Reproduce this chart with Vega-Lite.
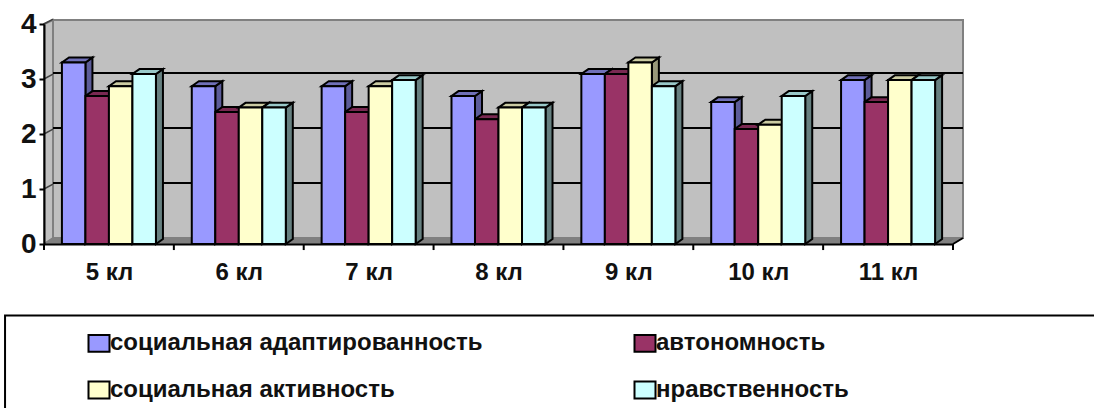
{
"$schema":"https://vega.github.io/schema/vega-lite/v6.json",
"width":909,"height":220,
"autosize":{"type":"none"},
"padding":{"left":44,"top":24,"right":141,"bottom":164},
"background":"white",
"config":{"view":{"stroke":null},"font":"Liberation Sans"},
"resolve":{"scale":{"color":"independent"}},
"datasets":{
"bars":[
{"klass":"5 кл","series":"социальная адаптированность","value":3.3},{"klass":"5 кл","series":"автономность","value":2.69},{"klass":"5 кл","series":"социальная активность","value":2.87},{"klass":"5 кл","series":"нравственность","value":3.09},
{"klass":"6 кл","series":"социальная адаптированность","value":2.87},{"klass":"6 кл","series":"автономность","value":2.4},{"klass":"6 кл","series":"социальная активность","value":2.48},{"klass":"6 кл","series":"нравственность","value":2.48},
{"klass":"7 кл","series":"социальная адаптированность","value":2.87},{"klass":"7 кл","series":"автономность","value":2.4},{"klass":"7 кл","series":"социальная активность","value":2.87},{"klass":"7 кл","series":"нравственность","value":2.98},
{"klass":"8 кл","series":"социальная адаптированность","value":2.69},{"klass":"8 кл","series":"автономность","value":2.27},{"klass":"8 кл","series":"социальная активность","value":2.48},{"klass":"8 кл","series":"нравственность","value":2.48},
{"klass":"9 кл","series":"социальная адаптированность","value":3.09},{"klass":"9 кл","series":"автономность","value":3.09},{"klass":"9 кл","series":"социальная активность","value":3.3},{"klass":"9 кл","series":"нравственность","value":2.87},
{"klass":"10 кл","series":"социальная адаптированность","value":2.58},{"klass":"10 кл","series":"автономность","value":2.09},{"klass":"10 кл","series":"социальная активность","value":2.17},{"klass":"10 кл","series":"нравственность","value":2.69},
{"klass":"11 кл","series":"социальная адаптированность","value":2.98},{"klass":"11 кл","series":"автономность","value":2.58},{"klass":"11 кл","series":"социальная активность","value":2.98},{"klass":"11 кл","series":"нравственность","value":2.98}
],
"ends":[{"p":0},{"p":1}],
"one":[{"p":0}],
"grid":[{"k":1,"p":0},{"k":1,"p":1},{"k":2,"p":0},{"k":2,"p":1},{"k":3,"p":0},{"k":3,"p":1},{"k":4,"p":0},{"k":4,"p":1}],
"ticks":[{"t":0},{"t":1},{"t":2},{"t":3},{"t":4},{"t":5},{"t":6},{"t":7}]
},
"layer":[
{"data":{"name":"one"},"mark":{"type":"rect","fill":"#C0C0C0","stroke":"#808080","strokeWidth":2},
 "encoding":{
  "x":{"datum":0.0693,"type":"quantitative","scale":{"domain":[0,7],"nice":false,"zero":false},
   "axis":{"title":null,"values":[0.5,1.5,2.5,3.5,4.5,5.5,6.5],"ticks":false,"grid":false,"domainColor":"black","domainWidth":2,"labelFont":"Liberation Sans","labelFontWeight":"bold","labelFontSize":24,"labelColor":"#111111","labelPadding":16,"labelExpr":"(floor(datum.value)+5)+' кл'","zindex":1}},
  "x2":{"datum":7.077},
  "y":{"datum":0.109,"type":"quantitative","scale":{"domain":[0,4],"nice":false,"zero":false},
   "axis":{"title":null,"values":[0,1,2,3,4],"tickSize":5,"tickWidth":2,"tickColor":"black","grid":false,"domainColor":"black","domainWidth":2,"labelFont":"Liberation Sans","labelFontWeight":"bold","labelFontSize":28,"labelColor":"#111111","labelPadding":3,"format":"d","zindex":1}},
  "y2":{"datum":4.073}
 }},
{"data":{"name":"ends"},
 "transform":[{"calculate":"datum.p*0.0693","as":"wx"},{"calculate":"datum.p*0.073+4","as":"wt"},{"calculate":"datum.p*0.109","as":"wb"}],
 "mark":{"type":"area","orient":"vertical","fill":"#C0C0C0","stroke":"#808080","strokeWidth":2},
 "encoding":{"x":{"field":"wx","type":"quantitative"},"y":{"field":"wt","type":"quantitative"},"y2":{"field":"wb"}}},
{"data":{"name":"ends"},
 "transform":[{"calculate":"datum.p*0.0693","as":"fa"},{"calculate":"7+datum.p*0.077","as":"fb"},{"calculate":"datum.p*0.109","as":"fy"}],
 "mark":{"type":"area","orient":"horizontal","fill":"#808080","stroke":"#808080","strokeWidth":1},
 "encoding":{"y":{"field":"fy","type":"quantitative"},"x":{"field":"fa","type":"quantitative"},"x2":{"field":"fb"}}},
{"data":{"name":"grid"},
 "transform":[{"filter":"datum.k<4"},{"calculate":"0.0693+datum.p*7.0077","as":"gx"},{"calculate":"datum.k+0.109","as":"gy"}],
 "mark":{"type":"line","color":"black","strokeWidth":2},
 "encoding":{"x":{"field":"gx","type":"quantitative"},"y":{"field":"gy","type":"quantitative"},"detail":{"field":"k"}}},
{"data":{"name":"grid"},
 "transform":[{"calculate":"datum.p*0.0693","as":"gx"},{"calculate":"datum.k+datum.p*0.09","as":"gy"}],
 "mark":{"type":"line","color":"#404040","strokeWidth":1.5},
 "encoding":{"x":{"field":"gx","type":"quantitative"},"y":{"field":"gy","type":"quantitative"},"detail":{"field":"k"}}},
{"data":{"name":"ends"},
 "transform":[{"calculate":"7+datum.p*0.077","as":"gx"},{"calculate":"datum.p*0.109","as":"gy"}],
 "mark":{"type":"line","color":"black","strokeWidth":2},
 "encoding":{"x":{"field":"gx","type":"quantitative"},"y":{"field":"gy","type":"quantitative"}}},
{"data":{"name":"bars"},
 "transform":[
  {"calculate":"parseInt(datum.klass)-5","as":"c"},
  {"calculate":"indexof(['социальная адаптированность','автономность','социальная активность','нравственность'],datum.series)","as":"s"},
  {"calculate":"datum.c+0.5+(datum.s-2)*0.181","as":"x0"},
  {"calculate":"datum.x0+0.181","as":"x1"},
  {"calculate":"[0,1]","as":"pp"},{"flatten":["pp"]},
  {"calculate":"datum.x1+datum.pp*0.054","as":"sx"},
  {"calculate":"datum.value+datum.pp*0.09","as":"sy"},
  {"calculate":"datum.pp*0.09","as":"sy2"}
 ],
 "mark":{"type":"area","orient":"vertical","stroke":"black","strokeWidth":2},
 "encoding":{"x":{"field":"sx","type":"quantitative"},"y":{"field":"sy","type":"quantitative"},"y2":{"field":"sy2"},
  "detail":{"field":"klass"},
  "color":{"field":"series","type":"nominal","legend":null,"scale":{"domain":["социальная адаптированность","автономность","социальная активность","нравственность"],"range":["#5C5C99","#5C1F3D","#99997A","#668080"]}}}},
{"data":{"name":"bars"},
 "transform":[
  {"calculate":"parseInt(datum.klass)-5","as":"c"},
  {"calculate":"indexof(['социальная адаптированность','автономность','социальная активность','нравственность'],datum.series)","as":"s"},
  {"calculate":"datum.c+0.5+(datum.s-2)*0.181","as":"x0"},
  {"calculate":"datum.x0+0.181","as":"x1"},
  {"calculate":"[0,1]","as":"pp"},{"flatten":["pp"]},
  {"calculate":"datum.x0+datum.pp*0.054","as":"ta"},
  {"calculate":"datum.x1+datum.pp*0.054","as":"tb"},
  {"calculate":"datum.value+datum.pp*0.09","as":"ty"}
 ],
 "mark":{"type":"area","orient":"horizontal","stroke":"black","strokeWidth":2},
 "encoding":{"y":{"field":"ty","type":"quantitative"},"x":{"field":"ta","type":"quantitative"},"x2":{"field":"tb"},
  "detail":{"field":"klass"},
  "color":{"field":"series","type":"nominal","legend":null,"scale":{"domain":["социальная адаптированность","автономность","социальная активность","нравственность"],"range":["#7070B8","#7A2952","#CCCCA3","#99C9C9"]}}}},
{"data":{"name":"bars"},
 "transform":[
  {"calculate":"parseInt(datum.klass)-5","as":"c"},
  {"calculate":"indexof(['социальная адаптированность','автономность','социальная активность','нравственность'],datum.series)","as":"s"},
  {"calculate":"datum.c+0.5+(datum.s-2)*0.181","as":"x0"},
  {"calculate":"datum.x0+0.181","as":"x1"}
 ],
 "mark":{"type":"rect","stroke":"black","strokeWidth":2},
 "encoding":{"x":{"field":"x0","type":"quantitative"},"x2":{"field":"x1"},"y":{"field":"value","type":"quantitative"},"y2":{"datum":0},
  "color":{"field":"series","type":"nominal","scale":{"domain":["социальная адаптированность","автономность","социальная активность","нравственность"],"range":["#9999FF","#993366","#FFFFCC","#CCFFFF"]},
   "legend":{"title":null,"orient":"none","direction":"horizontal","legendX":43,"legendY":307,"columns":2,"columnPadding":147,"rowPadding":21,"padding":0,"symbolType":"M-1,-0.8H1V0.8H-1Z","symbolSize":441,"symbolStrokeColor":"black","symbolStrokeWidth":2,"labelFont":"Liberation Sans","labelFontWeight":"bold","labelFontSize":24,"labelColor":"#111111","labelOffset":-1,"labelLimit":600}}}},
{"data":{"name":"ticks"},
 "transform":[{"calculate":"-0.11","as":"lo"},{"calculate":"0","as":"hi"}],
 "mark":{"type":"rule","color":"black","strokeWidth":2},
 "encoding":{"x":{"field":"t","type":"quantitative"},"y":{"field":"lo","type":"quantitative"},"y2":{"field":"hi"}}},
{"data":{"name":"one"},
 "mark":{"type":"rect","fill":null,"stroke":"black","strokeWidth":2},
 "encoding":{"x":{"datum":-0.3,"type":"quantitative"},"x2":{"datum":8.2},"y":{"datum":-1.3,"type":"quantitative"},"y2":{"datum":-3.2}}}
]
}
